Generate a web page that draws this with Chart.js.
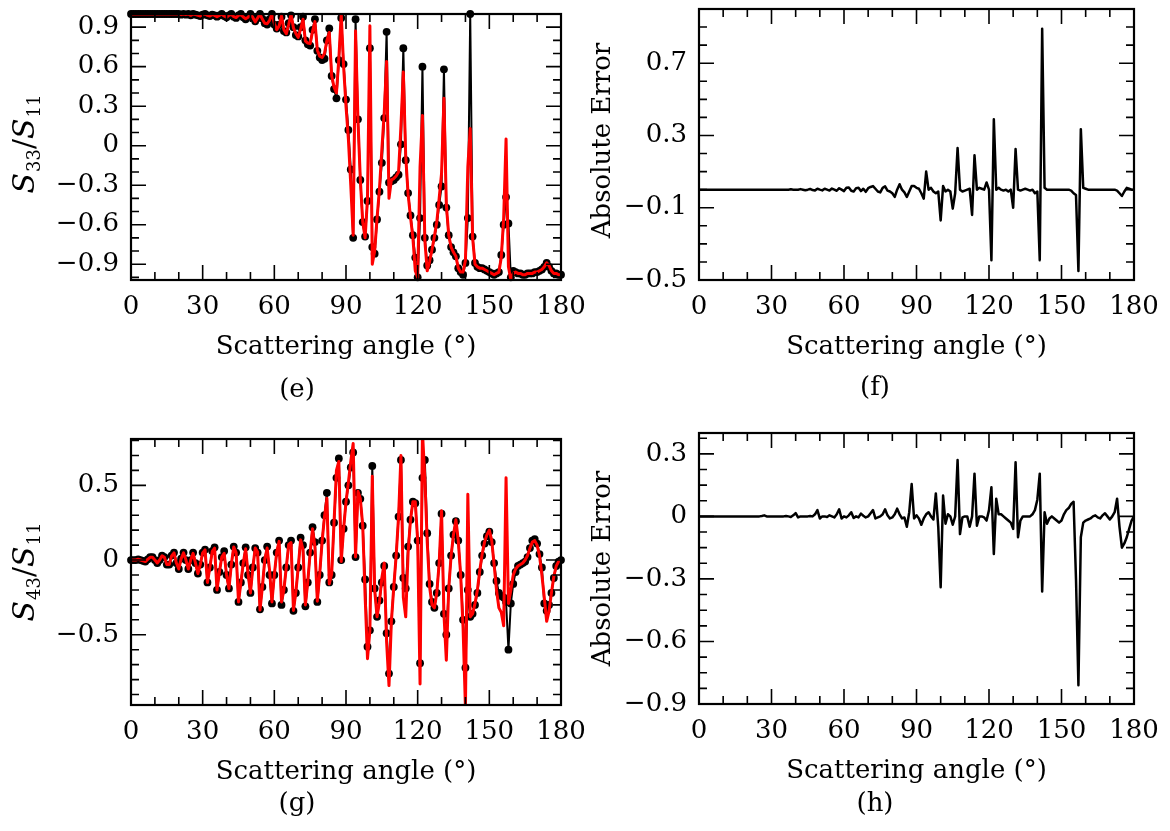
<!DOCTYPE html>
<html><head><meta charset="utf-8">
<script src="https://cdn.jsdelivr.net/npm/chart.js@4.4.0/dist/chart.umd.min.js"></script>
<style>
html,body{margin:0;padding:0;background:#fff;}
#wrap{position:relative;width:1170px;height:831px;overflow:hidden;background:#fff;}
canvas{position:absolute;left:0;top:0;}
</style></head><body><div id="wrap">
<canvas id="ce" width="1170" height="831"></canvas>
<canvas id="cf" width="1170" height="831"></canvas>
<canvas id="cg" width="1170" height="831"></canvas>
<canvas id="ch" width="1170" height="831"></canvas>
</div>
<script>
// ---------- categories ----------
const angles = [0,1,2,3,4,5,6,7,8,9,10,11,12,13,14,15,16,17,18,19,20,21,22,23,24,25,26,27,28,29,30,31,32,33,34,35,36,37,38,39,40,41,42,43,44,45,46,47,48,49,50,51,52,53,54,55,56,57,58,59,60,61,62,63,64,65,66,67,68,69,70,71,72,73,74,75,76,77,78,79,80,81,82,83,84,85,86,87,88,89,90,91,92,93,94,95,96,97,98,99,100,101,102,103,104,105,106,107,108,109,110,111,112,113,114,115,116,117,118,119,120,121,122,123,124,125,126,127,128,129,130,131,132,133,134,135,136,137,138,139,140,141,142,143,144,145,146,147,148,149,150,151,152,153,154,155,156,157,158,159,160,161,162,163,164,165,166,167,168,169,170,171,172,173,174,175,176,177,178,179,180];

// ---------- (e) S33/S11 ----------
const s33Ref = [
1,1,1,1,1,1,1,1,1,1,
1,1,1,1,1,1,1,1,1,1,
1,0.995,1,0.995,1,0.99,1,0.995,0.99,0.985,
0.995,1,0.99,0.985,0.995,0.99,0.98,0.99,1,0.985,
0.975,0.99,1,0.98,0.97,0.99,1,0.975,0.96,0.98,
1,0.97,0.945,0.97,1,0.965,0.93,0.92,0.96,1,
0.92,0.89,0.92,0.98,0.87,0.86,0.93,0.99,0.9,0.84,
0.83,0.9,0.98,0.8,0.77,0.76,0.88,0.96,0.72,0.67,
0.65,0.66,0.8,0.89,0.53,0.43,0.36,0.65,0.97,0.62,
0.35,0.12,-0.18,-0.7,0.96,0.2,-0.26,-0.58,-0.69,-0.42,
0.74,-0.77,-0.82,-0.56,-0.35,-0.13,0.21,0.865,-0.28,-0.27,
-0.26,-0.24,-0.22,0.01,0.74,-0.11,-0.36,-0.53,-0.68,-0.85,
-1,-0.55,0.6,-0.7,-0.91,-0.87,-0.79,-0.7,-0.6,-0.45,
-0.31,0.58,-0.47,-0.68,-0.77,-0.81,-0.84,-0.93,-0.96,-0.98,
-0.89,-0.55,1,-0.69,-0.89,-0.92,-0.93,-0.93,-0.94,-0.95,
-0.96,-0.97,-0.98,-0.97,-0.96,-0.83,-0.6,-0.39,-0.59,-1,
-0.95,-0.96,-0.97,-0.97,-0.98,-0.98,-0.97,-0.97,-0.97,-0.96,
-0.96,-0.95,-0.94,-0.92,-0.89,-0.92,-0.95,-0.97,-0.97,-0.98,
-0.98];
const s33Pred = [
1,1,1,1,1,1,1,1,1,1,
1,1,1,1,1,1,1,1,1,1,
1,0.995,1,0.995,1,0.99,1,0.995,0.99,0.985,
0.995,1,0.99,0.985,0.995,0.99,0.98,0.99,1,0.985,
0.975,0.99,0.997,0.98,0.973,0.99,0.996,0.977,0.964,0.975,
1,0.974,0.94,0.97,1,0.96,0.93,0.926,0.952,1,
0.928,0.88,0.908,0.986,0.88,0.85,0.92,0.998,0.895,0.852,
0.822,0.885,0.96,0.795,0.78,0.775,0.87,0.942,0.725,0.68,
0.67,0.7,0.8,0.86,0.53,0.445,0.4,0.66,1,0.6,
0.3,0.05,-0.3,-0.68,0.87,0.2,-0.26,-0.58,-0.7,-0.4,
0.91,-0.9,-0.8,-0.55,-0.33,-0.03,0.25,0.64,-0.4,-0.26,
-0.25,-0.23,-0.2,0.15,0.56,-0.08,-0.37,-0.54,-0.7,-0.95,
-1,-0.16,0.23,-0.72,-0.95,-0.88,-0.79,-0.69,-0.58,-0.4,
-0.21,0.36,-0.45,-0.68,-0.77,-0.81,-0.84,-0.93,-0.96,-0.96,
-0.87,-0.16,0.13,-0.7,-0.9,-0.92,-0.93,-0.93,-0.94,-0.95,
-0.96,-0.97,-0.98,-0.97,-0.96,-0.85,-0.55,0.05,-0.92,-1.02,
-0.97,-0.96,-0.97,-0.97,-0.98,-0.98,-0.97,-0.97,-0.97,-0.96,
-0.96,-0.95,-0.94,-0.92,-0.89,-0.91,-0.95,-0.97,-0.97,-0.98,
-0.98];

// ---------- (f) absolute error of S33/S11 ----------
const s33Err = [
0,0,0,0,0,0,0,0,0,0,
0,0,0,0,0,0,0,0,0,0,
0,0,0,0,0,0,0,0,0,0,
0,0,0,0,0,0,0,0,0.002,0,
0,0,0.003,0,-0.003,0,0.004,-0.002,-0.004,0.005,
0,-0.004,0.005,0,-0.005,0.006,0,-0.006,0.008,0,
-0.008,0.01,0.012,-0.006,-0.01,0.008,0.01,-0.008,0.005,-0.012,
0.008,0.015,0.02,0.005,-0.01,-0.015,0.01,0.018,-0.005,-0.01,
-0.02,-0.04,0,0.03,0,-0.015,-0.04,-0.01,0.02,0.02,
0.01,0.005,-0.02,-0.05,0.1,0,0.01,-0.01,-0.02,-0.01,
-0.17,0.02,-0.01,0,-0.01,-0.105,-0.02,0.23,0,-0.01,
-0.005,0,0.005,-0.14,0.19,0,0.01,0.005,0,0.04,
0,-0.39,0.39,0,0.01,0,-0.005,0,-0.01,0,
-0.1,0.225,0,-0.005,0,0.005,0,-0.005,0,-0.02,
-0.01,-0.39,0.89,0.01,0,0,0,0,0,0,
0,0,0,0,-0.005,-0.02,-0.03,-0.45,0.335,0.01,
0.005,0,0,0,0,0,0,0,0,0,
0,0,0,-0.005,-0.02,-0.035,-0.01,0.01,0.005,0,
0];

// ---------- (g) S43/S11 ----------
const s43Ref = [
0,0,0,0.005,0,-0.005,-0.01,0.005,0.02,0.02,
0,-0.02,0,0.03,0.02,-0.03,-0.03,0.03,0.05,-0.02,
-0.06,0.01,0.05,0,-0.06,0,0.05,-0.02,-0.09,-0.03,
0.05,0.07,-0.15,-0.05,0.06,0.085,-0.2,-0.08,0.02,0.06,
-0.1,-0.19,-0.03,0.09,0.05,-0.28,-0.15,-0.02,0.085,-0.1,
-0.22,-0.05,0.08,0.05,-0.33,-0.18,0,0.09,-0.1,-0.29,
-0.1,0.05,0.13,-0.3,-0.2,-0.05,0.1,0.13,-0.34,-0.22,
-0.05,0.15,0.1,-0.31,-0.15,0.05,0.22,0.12,-0.28,-0.1,
0.13,0.3,0.45,-0.15,-0.1,0.25,0.55,0.68,0,0.21,
0.39,0.5,0.62,0.72,0.02,0.45,0.41,0.23,-0.13,-0.58,
-0.47,0.63,-0.19,-0.38,-0.27,-0.15,-0.04,-0.49,-0.76,-0.41,
-0.18,0.03,0.29,0.67,-0.12,-0.19,0.09,0.27,0.39,0.38,
0.13,-0.69,0.55,0.67,0.18,-0.16,-0.28,-0.32,-0.22,-0.02,
0.31,-0.36,-0.5,-0.19,0.03,0.17,0.26,0.13,-0.1,-0.4,
-0.72,-0.2,-0.38,-0.36,-0.3,-0.22,-0.08,0.03,0.11,0.16,
0.19,0.12,-0.02,-0.14,-0.22,-0.24,-0.25,-0.28,-0.6,-0.29,
-0.16,-0.08,-0.04,-0.03,-0.02,-0.01,0.02,0.08,0.13,0.14,
0.11,0.04,-0.05,-0.29,-0.34,-0.3,-0.22,-0.12,-0.04,-0.01,
0];
const s43Pred = [
0,0,0,0.005,0,-0.005,-0.01,0.005,0.018,0.018,
0,-0.02,0,0.028,0.018,-0.03,-0.03,0.028,0.048,-0.02,
-0.06,0.01,0.048,0,-0.06,0,0.045,-0.02,-0.09,-0.03,
0.048,0.068,-0.15,-0.05,0.058,0.08,-0.2,-0.08,0.02,0.045,
-0.1,-0.19,-0.03,0.088,0.05,-0.28,-0.15,-0.02,0.075,-0.09,
-0.22,-0.05,0.08,0.053,-0.335,-0.18,0.005,0.08,-0.066,-0.28,
-0.1,0.055,0.125,-0.28,-0.2,-0.05,0.105,0.117,-0.337,-0.215,
-0.05,0.135,0.07,-0.3,-0.145,0.05,0.21,0.086,-0.275,-0.09,
0.125,0.29,0.413,-0.16,-0.095,0.255,0.6,0.66,-0.01,0.21,
0.39,0.52,0.66,0.78,0.02,0.46,0.41,0.23,-0.24,-0.66,
-0.47,0.56,-0.2,-0.38,-0.28,-0.12,-0.02,-0.55,-0.84,-0.41,
-0.18,0.03,0.29,0.7,-0.25,-0.38,0.05,0.27,0.39,0.39,
0.13,-0.83,0.86,0.55,0.12,-0.18,-0.3,-0.32,-0.22,-0.02,
0.33,-0.36,-0.67,-0.19,0.03,0.17,0.27,0.13,-0.1,-0.45,
-0.99,0.44,-0.38,-0.36,-0.29,-0.2,-0.07,0.04,0.12,0.17,
0.2,0.13,-0.03,-0.2,-0.32,-0.35,-0.44,0.55,-0.29,-0.2,
-0.1,-0.06,-0.04,-0.03,-0.02,0,0.03,0.08,0.12,0.13,
0.1,0.03,-0.1,-0.25,-0.41,-0.34,-0.22,-0.11,-0.04,-0.01,
0];

// ---------- (h) absolute error of S43/S11 ----------
const s43Err = [
0,0,0,0,0,0,0,0,0,0,
0,0,0,0,0,0,0,0,0,0,
0,0,0,0,0,0,0.002,0.005,0,0,
0,0,0,0,0,0,0.002,0,-0.003,0.005,
0.016,-0.005,0,0,0,0,0.002,0,0.01,0.03,
-0.01,0,0,-0.003,0.005,0,-0.005,0.01,0.034,-0.01,
0,-0.005,0.005,0.02,-0.008,0,-0.005,0.013,0.003,-0.005,
0,0.015,0.03,-0.01,-0.005,0,0.01,0.034,0.005,-0.01,
-0.005,0.01,0.037,0.01,-0.01,-0.005,-0.05,0.02,0.155,-0.01,
0.005,-0.01,-0.04,-0.01,0.01,0.02,0,-0.015,0.11,-0.05,
-0.34,0.1,-0.035,0.01,0,-0.04,0,0.27,-0.085,-0.005,
0,0,-0.05,0,0.205,-0.045,0,0,-0.005,-0.02,
0.03,0.14,-0.18,0.085,0.01,0.01,0,-0.01,-0.02,-0.03,
-0.06,0.26,-0.1,-0.02,0,0,0,0,0.01,0.03,
0.08,0.205,-0.36,0.02,-0.035,-0.01,0,-0.01,-0.02,-0.03,
-0.02,0.01,0.03,0.04,0.06,0.07,-0.3,-0.81,-0.1,-0.03,
-0.02,-0.015,-0.01,0,0.005,-0.005,-0.01,0.005,0.015,0,
-0.015,0,0.02,0.085,-0.05,-0.15,-0.13,-0.1,-0.06,-0.02,
0];

// ---------- tick values (labels) ----------
const xMajor = [0,30,60,90,120,150,180];
const xMinor = [10,20,40,50,70,80,100,110,130,140,160,170];
const eYMajor = [-0.9,-0.6,-0.3,0,0.3,0.6,0.9];
const eYMinor = [-1.0,-0.8,-0.7,-0.5,-0.4,-0.2,-0.1,0.1,0.2,0.4,0.5,0.7,0.8,1.0];
const fYMajor = [-0.5,-0.1,0.3,0.7];
const fYMinor = [-0.4,-0.3,-0.2,0,0.1,0.2,0.4,0.5,0.6,0.8,0.9];
const gYMajor = [-0.5,0,0.5];
const gYMinor = [-0.9,-0.8,-0.7,-0.6,-0.4,-0.3,-0.2,-0.1,0.1,0.2,0.3,0.4,0.6,0.7,0.8];
const hYMajor = [-0.9,-0.6,-0.3,0,0.3];
const hYMinor = [-0.825,-0.75,-0.675,-0.525,-0.45,-0.375,-0.225,-0.15,-0.075,0.075,0.15,0.225,0.375];

const FONT = "'DejaVu Serif', 'Liberation Serif', serif";
const W = 1170, H = 831;

function pts(ys) { return angles.map((a, i) => ({x: a, y: ys[i]})); }
function fmt(v) {
  if (Math.abs(v) < 1e-9) return '0';
  return (v < 0 ? '\u2212' : '') + String(Math.abs(v));
}

const panelCfg = {};

const framePlugin = {
  id: 'framePlugin',
  afterDraw(chart) {
    const cfg = panelCfg[chart.canvas.id];
    const ctx = chart.ctx;
    const {left, top, right, bottom} = chart.chartArea;
    const xs = chart.scales.x, ys = chart.scales.y;
    ctx.save();
    ctx.strokeStyle = '#000';
    ctx.lineWidth = 1.6;
    ctx.beginPath();
    const tick = (vals, len) => {
      vals.forEach(v => {
        const px = xs.getPixelForValue(v);
        ctx.moveTo(px, bottom); ctx.lineTo(px, bottom - len);
        ctx.moveTo(px, top); ctx.lineTo(px, top + len);
      });
    };
    const ytick = (vals, len) => {
      vals.forEach(v => {
        const py = ys.getPixelForValue(v);
        ctx.moveTo(left, py); ctx.lineTo(left + len, py);
        ctx.moveTo(right, py); ctx.lineTo(right - len, py);
      });
    };
    tick(xMajor, 15); tick(xMinor, 8);
    ytick(cfg.yMajor, 15); ytick(cfg.yMinor, 8);
    ctx.stroke();
    ctx.lineWidth = 2.2;
    ctx.strokeRect(left, top, right - left, bottom - top);

    ctx.fillStyle = '#000';
    ctx.font = '26px ' + FONT;
    ctx.textAlign = 'center';
    ctx.textBaseline = 'alphabetic';
    ctx.fillText('Scattering angle (\u00B0)', (left + right) / 2, bottom + 74);
    ctx.fillText(cfg.sub, cfg.subX, cfg.subY);
    let total = 0;
    cfg.yTitle.forEach(s => { ctx.font = s.font; s.w = ctx.measureText(s.t).width; total += s.w + (s.gap || 0); });
    ctx.translate(cfg.yTitleX, (top + bottom) / 2 + (cfg.yTitleDy || 0));
    ctx.rotate(-Math.PI / 2);
    ctx.textAlign = 'left';
    let pos = -total / 2;
    cfg.yTitle.forEach(s => { ctx.font = s.font; ctx.fillText(s.t, pos, s.dy || 0); pos += s.w + (s.gap || 0); });
    ctx.restore();
  }
};

function sTitle(sub1) {
  return [
    {t: 'S', font: 'italic 30px ' + FONT, gap: 1},
    {t: sub1, font: '18px ' + FONT, dy: 6},
    {t: '/', font: '30px ' + FONT},
    {t: 'S', font: 'italic 30px ' + FONT, gap: 1},
    {t: '11', font: '18px ' + FONT, dy: 6}
  ];
}
const absTitle = [{t: 'Absolute Error', font: '26px ' + FONT}];

function makePanel(id, area, yMin, yMax, yMajor, yMinor, datasets, extra) {
  panelCfg[id] = Object.assign({yMajor, yMinor}, extra);
  const tickFont = {family: FONT, size: 26};
  new Chart(document.getElementById(id), {
    type: 'line',
    data: {datasets},
    options: {
      responsive: false,
      animation: false,
      events: [],
      layout: {padding: {left: 0, top: area.top, right: W - area.right, bottom: 0}},
      plugins: {legend: {display: false}, tooltip: {enabled: false}},
      elements: {line: {tension: 0, borderJoinStyle: 'round', borderCapStyle: 'round'}},
      scales: {
        x: {
          type: 'linear', min: 0, max: 180,
          grid: {display: false, drawTicks: false}, border: {display: false},
          ticks: {padding: 12, font: tickFont, color: '#000', maxRotation: 0, autoSkip: false, callback: v => fmt(v)},
          afterBuildTicks: s => { s.ticks = xMajor.map(v => ({value: v})); },
          afterFit: s => { s.height = H - area.bottom; s.paddingLeft = 0; s.paddingRight = 0; s.paddingTop = 0; s.paddingBottom = 0; }
        },
        y: {
          type: 'linear', min: yMin, max: yMax,
          grid: {display: false, drawTicks: false}, border: {display: false},
          ticks: {padding: 12, font: tickFont, color: '#000', autoSkip: false, callback: v => fmt(v)},
          afterBuildTicks: s => { s.ticks = yMajor.map(v => ({value: v})); },
          afterFit: s => { s.width = area.left; s.paddingLeft = 0; s.paddingRight = 0; s.paddingTop = 0; s.paddingBottom = 0; }
        }
      }
    },
    plugins: [framePlugin]
  });
}

function refAndPred(ref, pred) {
  return [
    {data: pts(pred), borderColor: '#ff0000', borderWidth: 3, pointRadius: 0, order: 0},
    {data: pts(ref), borderColor: '#000000', borderWidth: 2, pointRadius: 3.9, pointHoverRadius: 3.9,
     pointBackgroundColor: '#000000', pointBorderWidth: 0, order: 1, clip: 6}
  ];
}
function errLine(err) {
  return [{data: pts(err), borderColor: '#000000', borderWidth: 2.5, pointRadius: 0}];
}

makePanel('ce', {left: 131, top: 14, right: 561, bottom: 280}, -1.02, 1.0, eYMajor, eYMinor,
  refAndPred(s33Ref, s33Pred),
  {sub: '(e)', subX: 297, subY: 397, yTitle: sTitle('33'), yTitleX: 34, yTitleDy: -3});
makePanel('cf', {left: 699, top: 9, right: 1134, bottom: 280}, -0.5, 1.0, fYMajor, fYMinor,
  errLine(s33Err),
  {sub: '(f)', subX: 875, subY: 395, yTitle: absTitle, yTitleX: 610, yTitleDy: -4});
makePanel('cg', {left: 131, top: 439, right: 561, bottom: 705}, -0.97, 0.81, gYMajor, gYMinor,
  refAndPred(s43Ref, s43Pred),
  {sub: '(g)', subX: 297, subY: 811, yTitle: sTitle('43'), yTitleX: 34, yTitleDy: 0});
makePanel('ch', {left: 699, top: 433, right: 1134, bottom: 704}, -0.9, 0.4, hYMajor, hYMinor,
  errLine(s43Err),
  {sub: '(h)', subX: 875, subY: 811, yTitle: absTitle, yTitleX: 610, yTitleDy: 0});
</script>
</body></html>
